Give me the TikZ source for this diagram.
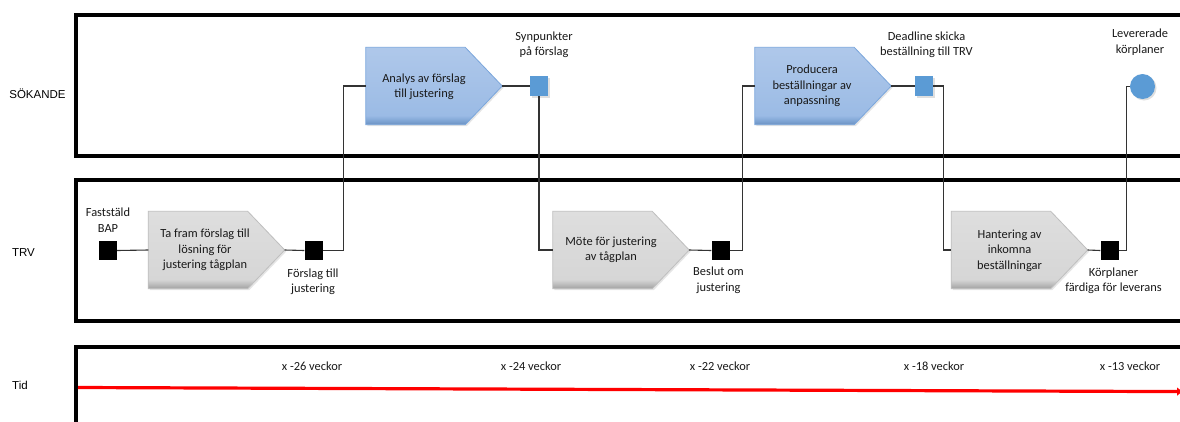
\documentclass[tikz,border=0pt]{standalone}
\usepackage{fontspec}
\setmainfont{Carlito}
\newfontfamily\lanefont{Liberation Sans}
\usetikzlibrary{arrows.meta,shadows}
\definecolor{gtop}{HTML}{DEDEDE}
\definecolor{glight}{HTML}{D6D6D6}
\definecolor{gmid}{HTML}{BDBDBD}
\definecolor{gdark}{HTML}{A0A0A0}
\definecolor{gborder}{HTML}{BFBFBF}
\definecolor{btop}{HTML}{AFC8EA}
\definecolor{blight}{HTML}{9BBBE5}
\definecolor{bmid}{HTML}{82A7D6}
\definecolor{bdark}{HTML}{6A91C2}
\definecolor{bborder}{HTML}{7AA6DC}
\definecolor{evblue}{HTML}{5B9BD5}
\definecolor{conncol}{HTML}{333333}
\pgfdeclareverticalshading{grayproc}{100bp}{color(0bp)=(gdark); color(25bp)=(gdark); color(28bp)=(gmid); color(31bp)=(glight); color(75bp)=(gtop); color(100bp)=(gtop)}
\pgfdeclareverticalshading{blueproc}{100bp}{color(0bp)=(bdark); color(25bp)=(bdark); color(28bp)=(bmid); color(31bp)=(blight); color(75bp)=(btop); color(100bp)=(btop)}
\tikzset{
  lane/.style={draw=black, line width=4pt},
  lanelbl/.style={font=\lanefont\fontsize{11.5}{14}\selectfont, inner sep=0pt},
  txt/.style={font=\fontsize{12.4}{15.5}\selectfont, align=center, inner sep=0pt, text=black!90},
  conn/.style={draw=conncol, line width=1.1pt},
  evt/.style={fill=black, minimum width=18pt, minimum height=19pt, inner sep=0pt},
  bevt/.style={fill=evblue, minimum width=18pt, minimum height=20pt, inner sep=0pt,
    drop shadow={opacity=0.25, shadow xshift=1.5pt, shadow yshift=-1.5pt}},
  proc/.style={minimum width=136pt, minimum height=77pt, inner sep=0pt},
  grayp/.style={shading=grayproc, draw=gborder, line width=0.8pt,
    drop shadow={opacity=0.2, shadow xshift=1.5pt, shadow yshift=-1.5pt}},
  bluep/.style={shading=blueproc, draw=bborder, line width=0.8pt,
    drop shadow={opacity=0.2, shadow xshift=1.5pt, shadow yshift=-1.5pt}},
}
\begin{document}
\begin{tikzpicture}[x=1pt,y=-1pt]
\useasboundingbox (0,0) rectangle (1180,421);
\clip (0,0) rectangle (1180,421);
\fill[white] (0,0) rectangle (1180,421);

% lanes
\draw[lane] (75.5,15) rectangle (1195,156);
\draw[lane] (75.5,180) rectangle (1195,321);
\draw[lane] (75.5,347) rectangle (1195,440);
\node[lanelbl] (lsok) at (37.5,94) {SÖKANDE};
\node[lanelbl] (ltrv) at (23.5,253) {TRV};
\node[lanelbl] (ltid) at (20,385) {Tid};

% process nodes (frames)
\node[proc] (tafram) at (216.5,250) {};
\node[proc] (analys) at (434,86) {};
\node[proc] (mote) at (621,250) {};
\node[proc] (producera) at (823,86) {};
\node[proc] (hantering) at (1019.5,250) {};

\path[grayp] (tafram.north west) -- ([xshift=-37pt]tafram.north east) -- (tafram.east) -- ([xshift=-37pt]tafram.south east) -- (tafram.south west) -- cycle;
\path[bluep] (analys.north west) -- ([xshift=-37pt]analys.north east) -- (analys.east) -- ([xshift=-37pt]analys.south east) -- (analys.south west) -- cycle;
\path[grayp] (mote.north west) -- ([xshift=-37pt]mote.north east) -- (mote.east) -- ([xshift=-37pt]mote.south east) -- (mote.south west) -- cycle;
\path[bluep] (producera.north west) -- ([xshift=-37pt]producera.north east) -- (producera.east) -- ([xshift=-37pt]producera.south east) -- (producera.south west) -- cycle;
\path[grayp] (hantering.north west) -- ([xshift=-37pt]hantering.north east) -- (hantering.east) -- ([xshift=-37pt]hantering.south east) -- (hantering.south west) -- cycle;

\node[txt] (taframt) at (205,250) {Ta fram förslag till\\lösning för\\justering tågplan};
\node[txt] (analyst) at (424,87) {Analys av förslag\\till justering};
\node[txt] (motet) at (611,250) {Möte för justering\\av tågplan};
\node[txt] (producerat) at (812,86) {Producera\\beställningar av\\anpassning};
\node[txt] (hanteringt) at (1009.5,250.5) {Hantering av\\inkomna\\beställningar};

% events
\node[evt] (bap) at (108,250.5) {};
\node[evt] (forslag) at (313.5,250.5) {};
\node[evt] (beslut) at (720.5,250.5) {};
\node[evt] (korpl) at (1109.5,250.5) {};
\node[bevt] (synp) at (539,86) {};
\node[bevt] (deadline) at (924,86) {};
\node[circle, fill=evblue, minimum size=25pt, inner sep=0pt,
  drop shadow={opacity=0.25, shadow xshift=1.5pt, shadow yshift=-1.5pt}] (lev) at (1142.5,86.5) {};

% event labels
\node[txt] (bapl) at (108,220) {Faststäld\\BAP};
\node[txt] (forslagl) at (313,282) {Förslag till\\justering};
\node[txt] (synpl) at (544,45) {Synpunkter\\på förslag};
\node[txt] (beslutl) at (718.5,280.5) {Beslut om\\justering};
\node[txt] (deadlinel) at (926.5,45) {Deadline skicka\\beställning till TRV};
\node[txt] (korpll) at (1113.5,281) {Körplaner\\färdiga för leverans};
\node[txt] (levl) at (1140,42) {Levererade\\körplaner};

% connectors
\draw[conn] (bap.east) -- (tafram.west);
\draw[conn] (tafram.east) -- (forslag.west);
\draw[conn] (forslag.east) -- ++(21,0) |- (analys.west);
\draw[conn] (analys.east) -- (synp.west);
\draw[conn] (synp.south) |- (mote.west);
\draw[conn] (mote.east) -- (beslut.west);
\draw[conn] (beslut.east) -- ++(12.5,0) |- (producera.west);
\draw[conn] (producera.east) -- (deadline.west);
\draw[conn] (deadline.east) -- ++(10,0) |- (hantering.west);
\draw[conn] (hantering.east) -- (korpl.west);
\draw[conn] (korpl.east) -- ++(7.5,0) |- (lev.west);

% time axis
\coordinate (tstart) at (78,387.5);
\coordinate (tend) at (1183,391.6);
\draw[red, line width=3.2pt, -{Latex[length=6pt,width=9pt]}] (tstart) -- (tend);
\node[txt] (t26) at (312,366) {x -26 veckor};
\node[txt] (t24) at (531,366) {x -24 veckor};
\node[txt] (t22) at (720,366) {x -22 veckor};
\node[txt] (t18) at (934,366) {x -18 veckor};
\node[txt] (t13) at (1130,366) {x -13 veckor};
\end{tikzpicture}
\end{document}
